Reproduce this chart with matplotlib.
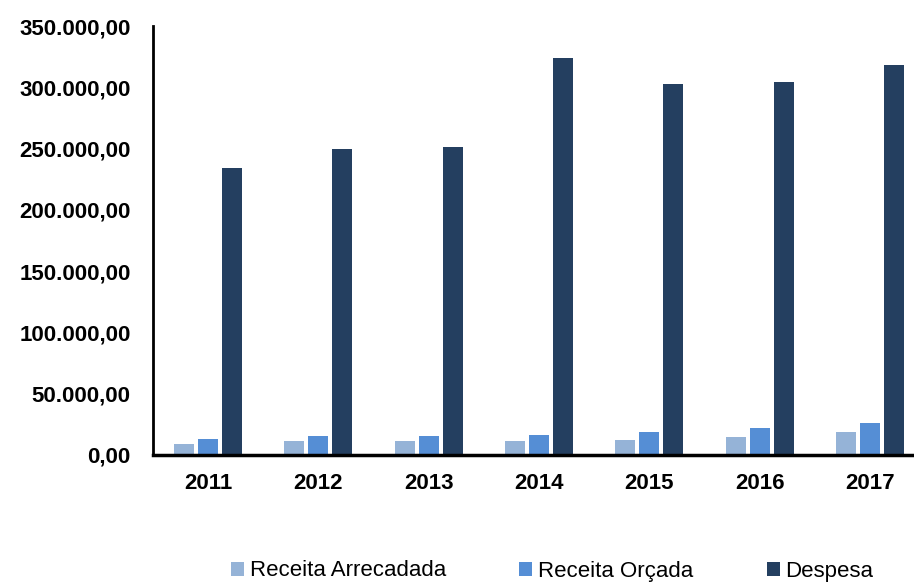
import matplotlib
matplotlib.use("Agg")
import matplotlib.pyplot as plt
import numpy as np
from matplotlib.ticker import FuncFormatter

years = ["2011", "2012", "2013", "2014", "2015", "2016", "2017"]
receita_arrecadada = [9000, 11500, 11500, 11500, 12300, 14700, 18800]
receita_orcada = [13000, 15500, 15500, 16500, 18800, 22000, 26000]
despesa = [234000, 249500, 251000, 324000, 302500, 304000, 318500]

series = [("Receita Arrecadada", receita_arrecadada, "#95B3D7"),
          ("Receita Orçada", receita_orcada, "#558ED5"),
          ("Despesa", despesa, "#243F60")]

plt.rcParams['font.family'] = ['Liberation Sans', 'DejaVu Sans']

fig = plt.figure(figsize=(9.14, 5.83), dpi=100)
left, right, top, bottom = 153, 925, 26, 455
ax = fig.add_axes([left/914, 1-bottom/583, (right-left)/914, (bottom-top)/583])

x = np.arange(len(years))
w = 0.181
step = 0.2176
for i, (name, vals, col) in enumerate(series):
    ax.bar(x + (i - 1) * step, vals, width=w, color=col, label=name, zorder=2)

ax.set_xlim(-0.5, len(years) - 0.5)
ax.set_ylim(0, 350000)
ax.set_yticks(np.arange(0, 350001, 50000))

def fmt(v, pos):
    s = f"{int(v):,}".replace(",", ".")
    return s + ",00"
ax.yaxis.set_major_formatter(FuncFormatter(fmt))
ax.set_xticks(x)
ax.set_xticklabels(years)

for s in ["top", "right"]:
    ax.spines[s].set_visible(False)
ax.spines["left"].set_linewidth(2)
ax.spines["bottom"].set_linewidth(2.5)
ax.tick_params(axis="both", length=0, labelsize=16)
ax.tick_params(axis="y", pad=16)
ax.tick_params(axis="x", pad=13)
for lab in ax.get_xticklabels() + ax.get_yticklabels():
    lab.set_fontweight("bold")

fig.legend(loc="center", bbox_to_anchor=(0.604, 1-571/583), ncol=3, frameon=False,
           fontsize=16, handlelength=0.6, handleheight=0.6, handletextpad=0.25,
           columnspacing=3.3, borderaxespad=0, borderpad=0)

fig.savefig("out.png", dpi=100)
